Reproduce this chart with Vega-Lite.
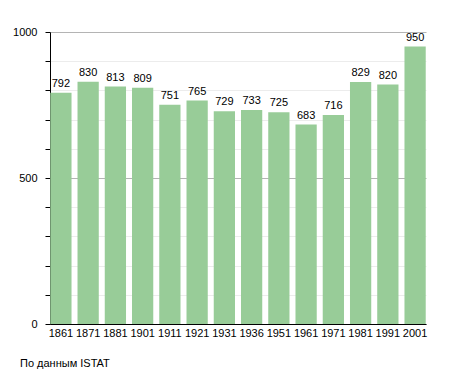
{
  "$schema": "https://vega.github.io/schema/vega-lite/v6.json",
  "width": 376,
  "height": 292,
  "autosize": {"type": "none"},
  "padding": {"left": 50, "top": 32, "right": 29, "bottom": 49},
  "background": "white",
  "config": {"view": {"stroke": null}, "font": "Liberation Sans"},
  "title": {"text": "По данным ISTAT", "orient": "bottom", "anchor": "start", "frame": "group", "dx": -30, "offset": 20, "fontSize": 11, "fontWeight": "normal", "font": "Liberation Sans", "color": "black"},
  "data": {"values": [
    {"year": "1861", "pop": 792},
    {"year": "1871", "pop": 830},
    {"year": "1881", "pop": 813},
    {"year": "1901", "pop": 809},
    {"year": "1911", "pop": 751},
    {"year": "1921", "pop": 765},
    {"year": "1931", "pop": 729},
    {"year": "1936", "pop": 733},
    {"year": "1951", "pop": 725},
    {"year": "1961", "pop": 683},
    {"year": "1971", "pop": 716},
    {"year": "1981", "pop": 829},
    {"year": "1991", "pop": 820},
    {"year": "2001", "pop": 950}
  ]},
  "encoding": {
    "x": {"field": "year", "type": "ordinal", "sort": null,
      "scale": {"paddingInner": 0.22, "paddingOuter": 0.01},
      "axis": {"title": null, "labelAngle": 0, "ticks": false, "domainColor": "black", "labelFontSize": 11, "labelColor": "black", "labelPadding": 3}},
    "y": {"field": "pop", "type": "quantitative",
      "scale": {"domain": [0, 1000], "nice": false},
      "axis": {"title": null, "values": [0,100,200,300,400,500,600,700,800,900,1000],
        "labelExpr": "datum.value % 500 === 0 ? datum.label : ''",
        "format": "d",
        "domainColor": "black", "tickColor": "black", "tickSize": 5,
        "labelFontSize": 11, "labelColor": "black", "labelPadding": 8,
        "gridColor": {"condition": {"test": "datum.value % 500 === 0", "value": "#b4b4b4"}, "value": "#ececec"},
        "gridWidth": 1}}
  },
  "layer": [
    {"mark": {"type": "bar", "color": "#98cc98"}},
    {"mark": {"type": "text", "baseline": "bottom", "dy": -4, "fontSize": 11, "color": "black"},
     "encoding": {"text": {"field": "pop", "type": "quantitative"}}}
  ]
}
